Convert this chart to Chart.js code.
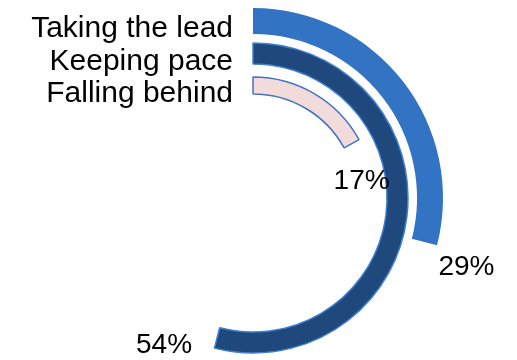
<!DOCTYPE html>
<html>
<head>
<meta charset="utf-8">
<script src="https://cdn.jsdelivr.net/npm/chart.js@4"></script>
<style>
  html, body { margin:0; padding:0; background:#fff; overflow:hidden; }
  #wrap { position:absolute; left:0; top:0; width:517px; height:396px; }
</style>
</head>
<body>
<div id="wrap"><canvas id="chart-radial"></canvas></div>
<script>
// anéis, de fora para dentro
const categorias = ['Taking the lead', 'Keeping pace', 'Falling behind'];
const valores    = [29, 54, 17];
const rotulos    = valores.map(v => `${v}%`);

const coresFundo = ['#3373c4', '#1f497d', '#f2dcdb'];
const coresBorda = ['#3373c4', '#3f7fd0', '#4472c4'];
const bordas     = [0, 1.5, 1.5];
const pesos      = [26, 21, 17];   // espessura de cada anel
const espacos    = [9, 13];        // vão entre os anéis
// deslocamento do rótulo % a partir do fim do arco
const desloc     = [[42, 25], [-53, 7], [10, 37]];

const datasets = [];
categorias.forEach((c, i) => {
  datasets.push({
    label: c,
    data: [valores[i], 100 - valores[i]],
    backgroundColor: [coresFundo[i], 'rgba(0,0,0,0)'],
    borderColor: [coresBorda[i], 'rgba(0,0,0,0)'],
    borderWidth: [bordas[i], 0],
    weight: pesos[i],
    _real: i
  });
  if (i < espacos.length) {
    datasets.push({ label: '', data: [100], backgroundColor: ['rgba(0,0,0,0)'], borderWidth: 0, weight: espacos[i] });
  }
});

const rotulosPlugin = {
  id: 'rotulos',
  afterDatasetsDraw(chart) {
    const ctx = chart.ctx;
    ctx.save();
    ctx.fillStyle = '#000';
    chart.data.datasets.forEach((ds, di) => {
      if (ds._real === undefined) return;
      const i = ds._real;
      const arc = chart.getDatasetMeta(di).data[0];
      const { x, y, endAngle, innerRadius, outerRadius } = arc.getProps(['x','y','endAngle','innerRadius','outerRadius'], true);
      const rMeio = (innerRadius + outerRadius) / 2;

      ctx.font = "30px 'Liberation Sans', Arial, sans-serif";
      ctx.textAlign = 'right';
      ctx.textBaseline = 'alphabetic';
      ctx.fillText(categorias[i], x - 20, y - rMeio + 16);

      ctx.font = "28px 'Liberation Sans', Arial, sans-serif";
      ctx.textAlign = 'center';
      ctx.textBaseline = 'middle';
      const ex = x + Math.cos(endAngle) * rMeio + desloc[i][0];
      const ey = y + Math.sin(endAngle) * rMeio + desloc[i][1];
      ctx.fillText(rotulos[i], ex, ey);
    });
    ctx.restore();
  }
};

new Chart(document.getElementById('chart-radial').getContext('2d'), {
  type: 'doughnut',
  data: { labels: ['v', 'resto'], datasets },
  options: {
    responsive: true, maintainAspectRatio: false,
    animation: false,
    events: [],
    cutout: 104,
    layout: { padding: { top: 8, bottom: 8, left: 0, right: 11 } },
    plugins: { legend: { display: false }, tooltip: { enabled: false } }
  },
  plugins: [rotulosPlugin]
});
</script>
</body>
</html>
